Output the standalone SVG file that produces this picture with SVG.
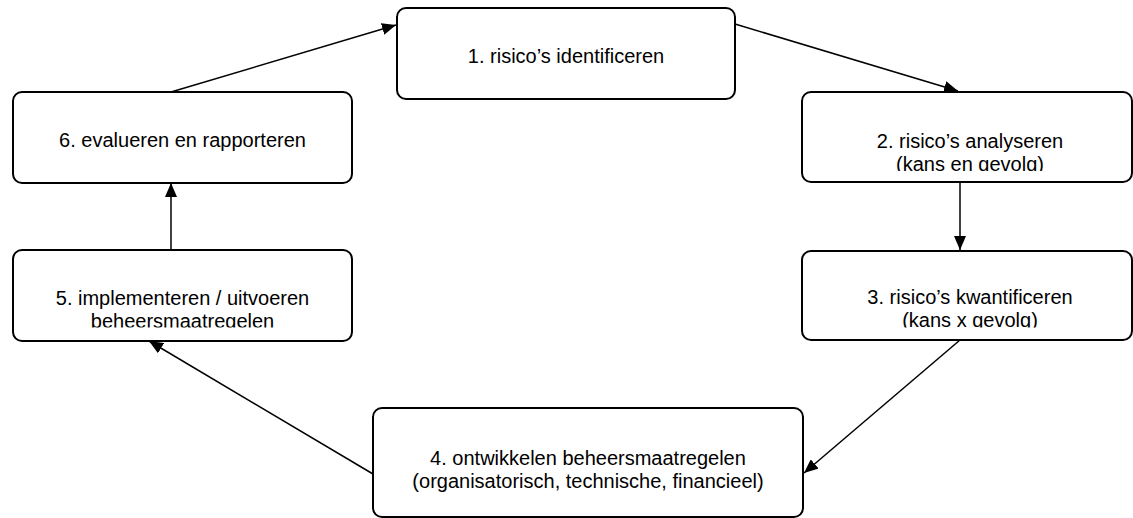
<svg xmlns="http://www.w3.org/2000/svg" width="1133" height="518" viewBox="0 0 1133 518">
  <style>
    .box { fill: #ffffff; stroke: #000000; stroke-width: 2; }
    .lbl { font-family: "Liberation Sans", Arial, sans-serif; font-size: 20px; fill: #000000; text-anchor: middle; }
    .edge { fill: none; stroke: #000000; stroke-width: 1.5; marker-end: url(#arrow); }
  </style>
  <defs>
    <marker id="arrow" markerUnits="userSpaceOnUse" markerWidth="14" markerHeight="12" refX="14" refY="6" orient="auto">
      <path d="M0,0 L14,6 L0,12 Z" fill="#000000"/>
    </marker>
    <clipPath id="clip2"><rect x="802" y="92" width="331" height="79"/></clipPath>
    <clipPath id="clip3"><rect x="802" y="251" width="331" height="76.5"/></clipPath>
    <clipPath id="clip5"><rect x="13" y="250" width="339" height="77.5"/></clipPath>
  </defs>
  <rect width="1133" height="518" fill="#ffffff"/>

  <g id="connectors">
    <line class="edge" x1="171" y1="92" x2="396" y2="25"/>
    <line class="edge" x1="735" y1="24" x2="958" y2="91"/>
    <line class="edge" x1="960" y1="182" x2="960" y2="250"/>
    <line class="edge" x1="960" y1="340" x2="804" y2="473"/>
    <line class="edge" x1="373" y1="474" x2="149" y2="341"/>
    <line class="edge" x1="171" y1="250" x2="171" y2="183"/>
  </g>

  <g id="node1">
    <rect class="box" x="397" y="8" width="338" height="91" rx="9"/>
    <text class="lbl" x="566" y="63">1. risico’s identificeren</text>
  </g>
  <g id="node2">
    <rect class="box" x="802" y="92" width="330" height="90" rx="9"/>
    <g clip-path="url(#clip2)">
      <text class="lbl" x="970" y="148">2. risico’s analyseren</text>
      <text class="lbl" x="970" y="171">(kans en gevolg)</text>
    </g>
  </g>
  <g id="node3">
    <rect class="box" x="802" y="251" width="330" height="89" rx="9"/>
    <g clip-path="url(#clip3)">
      <text class="lbl" x="970" y="304">3. risico’s kwantificeren</text>
      <text class="lbl" x="970" y="327">(kans x gevolg)</text>
    </g>
  </g>
  <g id="node4">
    <rect class="box" x="373" y="408" width="430" height="109" rx="9"/>
    <text class="lbl" x="588" y="465">4. ontwikkelen beheersmaatregelen</text>
    <text class="lbl" x="588" y="488">(organisatorisch, technische, financieel)</text>
  </g>
  <g id="node5">
    <rect class="box" x="13" y="250" width="339" height="91" rx="9"/>
    <g clip-path="url(#clip5)">
      <text class="lbl" x="182.5" y="305">5. implementeren / uitvoeren</text>
      <text class="lbl" x="182.5" y="327.5">beheersmaatregelen</text>
    </g>
  </g>
  <g id="node6">
    <rect class="box" x="13" y="92" width="339" height="91" rx="9"/>
    <text class="lbl" x="182.5" y="147">6. evalueren en rapporteren</text>
  </g>
</svg>
